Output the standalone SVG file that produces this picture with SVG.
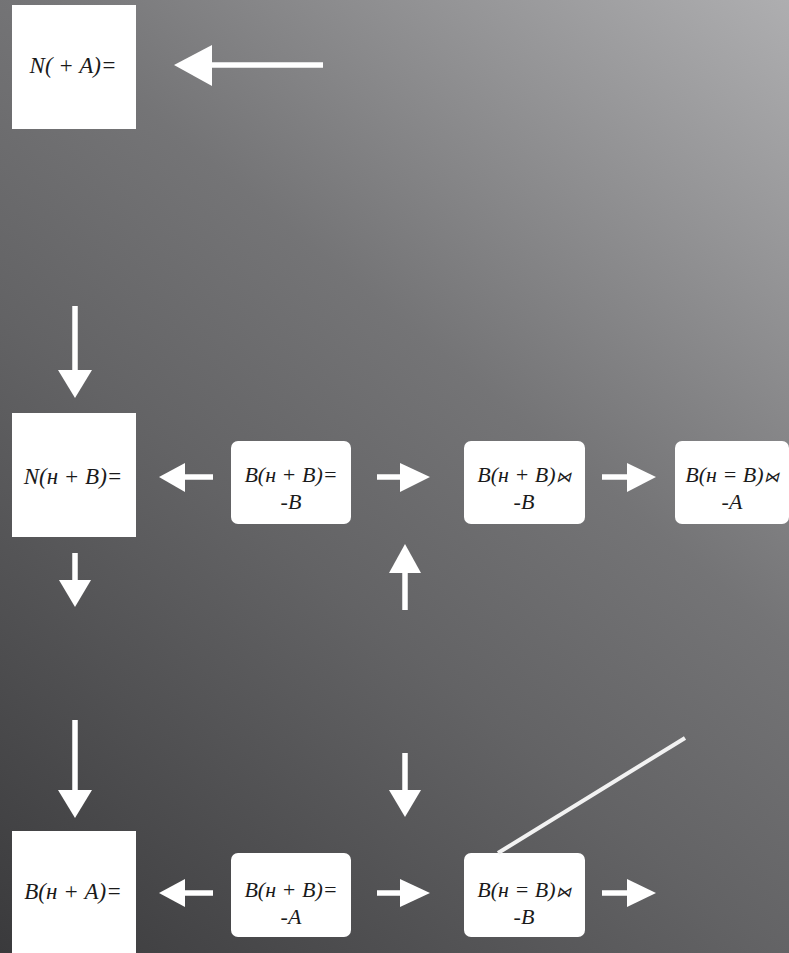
<svg xmlns="http://www.w3.org/2000/svg" width="789" height="953" viewBox="0 0 789 953">
<defs>
<linearGradient id="bg" x1="0" y1="953" x2="789" y2="0" gradientUnits="userSpaceOnUse">
<stop offset="0" stop-color="#3a3a3c"/>
<stop offset="0.4" stop-color="#636365"/>
<stop offset="0.6" stop-color="#747476"/>
<stop offset="1" stop-color="#aeaeb0"/>
</linearGradient>
<style>
.box{fill:#ffffff}
.t{font-family:"Liberation Serif","DejaVu Serif",serif;font-style:italic;font-size:23px;fill:#1a1a1a;text-anchor:middle}
.m{font-size:22px}
.s{font-size:15px}
.c{stroke:#ffffff;stroke-width:5.5;fill:none}
.hd{fill:#ffffff}
.ln{stroke:#f2f2f2;stroke-width:4;fill:none}
</style>
</defs>
<rect width="789" height="953" fill="url(#bg)"/>

<g id="n1"><rect class="box" x="12" y="5" width="124" height="124"/><text class="t" x="73" y="73">N( + A)=</text></g>
<g id="n2"><rect class="box" x="12" y="413" width="124" height="124"/><text class="t" x="73" y="484">N(н + B)=</text></g>
<g id="n3"><rect class="box" x="231" y="441" width="120" height="83" rx="7"/><text class="t m" x="291" y="482">B(н + B)=</text><text class="t m" x="291" y="509">-B</text></g>
<g id="n4"><rect class="box" x="464" y="441" width="121" height="83" rx="7"/><text class="t m" x="524" y="482">B(н + B)<tspan class="s">⋈</tspan></text><text class="t m" x="524" y="509">-B</text></g>
<g id="n5"><rect class="box" x="675" y="441" width="114" height="83" rx="7"/><text class="t m" x="732" y="482">B(н = B)<tspan class="s">⋈</tspan></text><text class="t m" x="732" y="509">-A</text></g>
<g id="n6"><rect class="box" x="12" y="831" width="124" height="130"/><text class="t" x="73" y="899">B(н + A)=</text></g>
<g id="n7"><rect class="box" x="231" y="853" width="120" height="84" rx="7"/><text class="t m" x="291" y="897">B(н + B)=</text><text class="t m" x="291" y="924">-A</text></g>
<g id="n8"><rect class="box" x="464" y="853" width="121" height="84" rx="7"/><text class="t m" x="524" y="897">B(н = B)<tspan class="s">⋈</tspan></text><text class="t m" x="524" y="924">-B</text></g>

<g id="connectors">
<line class="c" x1="323" y1="65" x2="210" y2="65"/><polygon class="hd" points="174,65 212,45 212,86"/>
<line class="c" x1="75" y1="306" x2="75" y2="372"/><polygon class="hd" points="58,370 92,370 75,398"/>
<line class="c" x1="213" y1="477" x2="183" y2="477"/><polygon class="hd" points="159,477 185,463 185,492"/>
<line class="c" x1="377" y1="477" x2="402" y2="477"/><polygon class="hd" points="430,477 400,463 400,492"/>
<line class="c" x1="602" y1="477" x2="629" y2="477"/><polygon class="hd" points="656,477 627,463 627,492"/>
<line class="c" x1="75" y1="553" x2="75" y2="582"/><polygon class="hd" points="59,580 91,580 75,607"/>
<line class="c" x1="405" y1="610" x2="405" y2="571"/><polygon class="hd" points="405,544 389,573 421,573"/>
<line class="c" x1="75" y1="720" x2="75" y2="792"/><polygon class="hd" points="58,790 92,790 75,818"/>
<line class="c" x1="405" y1="753" x2="405" y2="792"/><polygon class="hd" points="389,790 421,790 405,817"/>
<line class="c" x1="213" y1="893" x2="183" y2="893"/><polygon class="hd" points="159,893 185,879 185,907"/>
<line class="c" x1="377" y1="893" x2="402" y2="893"/><polygon class="hd" points="430,893 400,879 400,907"/>
<line class="c" x1="602" y1="893" x2="629" y2="893"/><polygon class="hd" points="656,893 627,879 627,907"/>
<line class="ln" x1="498" y1="853" x2="685" y2="738"/>
</g>
</svg>
